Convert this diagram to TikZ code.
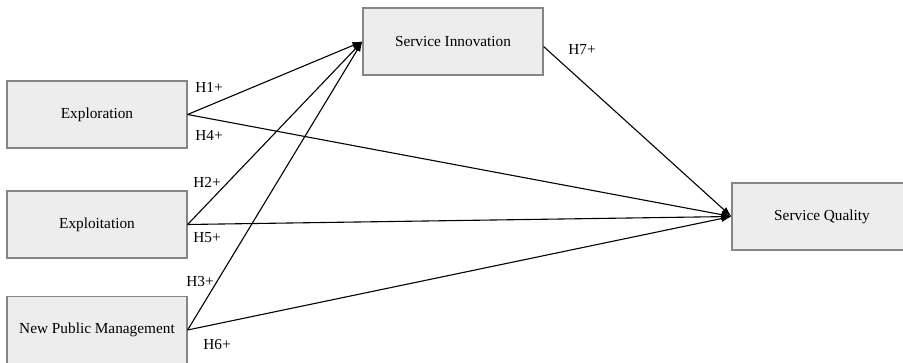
\documentclass[tikz,border=0pt]{standalone}
\usepackage{fontspec}
\setmainfont{Liberation Serif}
\usetikzlibrary{%
  calc,%
  arrows.meta%
}

\begin{document}
\begin{tikzpicture}[x=1pt,y=-1pt,
  font=\fontsize{15.3}{18}\selectfont,
  box/.style={draw=black!48,line width=1.2pt,fill=black!7,
    minimum width=180pt,minimum height=67pt,inner sep=0pt},
  path/.style={line width=1.1pt,-{Latex[length=10pt,width=7pt]}}]
\useasboundingbox (0,0) rectangle (903,363);
\clip (0,0) rectangle (903,363);
\node[box] (Expl) at (97,114.5) {Exploration};
\node[box] (Expt) at (97,224.5) {Exploitation};
\node[box] (NPM) at (97,330) {New Public Management};
\node[box] (SI) at (453,41.5) {Service Innovation};
\node[box] (SQ) at (822,216.5) {Service Quality};
\draw[path] (Expl.east) -- (SI.west);
\draw[path] (Expt.east) -- (SI.west);
\draw[path] (NPM.east) -- (SI.west);
\draw[path] (Expl.east) -- (SQ.west);
\draw[path] (Expt.east) -- (SQ.west);
\draw[path] (NPM.east) -- (SQ.west);
\draw[path] ($(SI.east)+(0,5)$) -- (SQ.west);
\node (H1) at (209,87) {H1+};
\node (H4) at (209,135) {H4+};
\node (H2) at (207,182) {H2+};
\node (H5) at (207,238) {H5+};
\node (H3) at (200,282) {H3+};
\node (H6) at (217,345) {H6+};
\node (H7) at (582,49) {H7+};
\end{tikzpicture}
\end{document}
